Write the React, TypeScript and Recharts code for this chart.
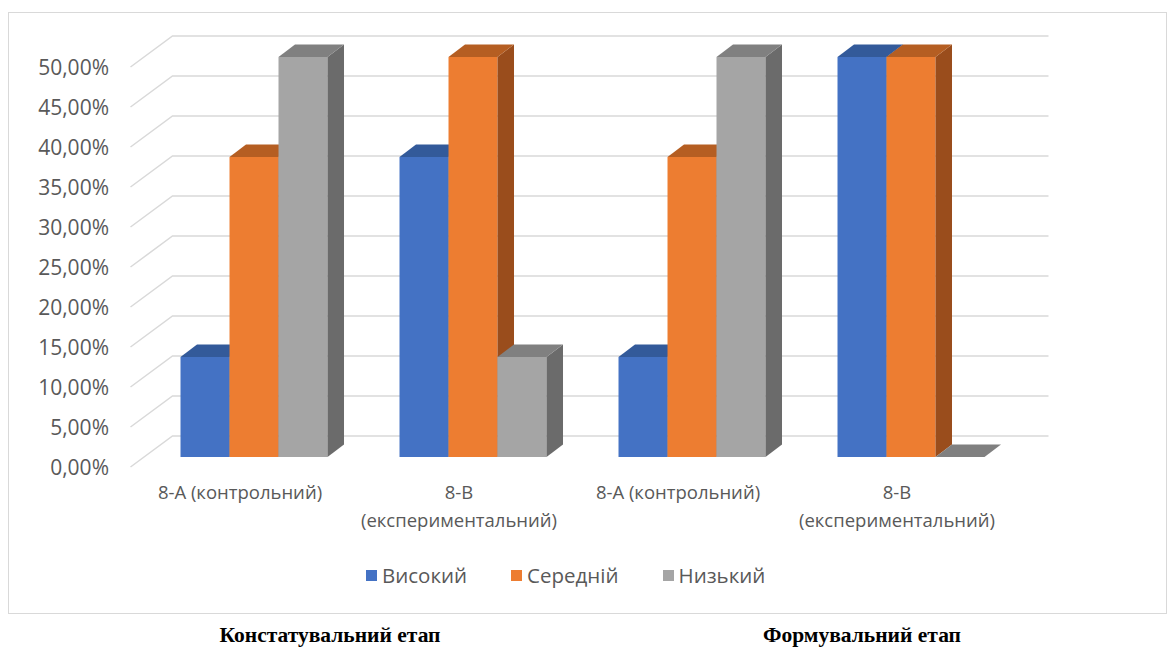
import React from "react";
import { BarChart, Bar, XAxis, YAxis, CartesianGrid, Legend } from "recharts";

// Групи (константувальний і формувальний етапи), рядок розбивається по "\n"
const groups = [
  "8-А (контрольний)",
  "8-В\n(експериментальний)",
  "8-А (контрольний)",
  "8-В\n(експериментальний)",
];
const high = [0.125, 0.375, 0.125, 0.5];
const medium = [0.375, 0.5, 0.375, 0.5];
const low = [0.5, 0.125, 0.5, 0];
const yTicks = [0, 0.05, 0.1, 0.15, 0.2, 0.25, 0.3, 0.35, 0.4, 0.45, 0.5];
const stages = ["Констатувальний етап", "Формувальний етап"];

const series = [
  { key: "high", name: "Високий", color: "#4472C4", top: "#335A9A", side: "#2C4D87" },
  { key: "medium", name: "Середній", color: "#ED7D31", top: "#B55E22", side: "#9A4D1C" },
  { key: "low", name: "Низький", color: "#A5A5A5", top: "#808080", side: "#6B6B6B" },
];

// однакові назви груп повторюються, тому вісь X іде по індексу
const data = groups.map((g, i) => ({ idx: i, group: g, high: high[i], medium: medium[i], low: low[i] }));

const FONT = "'Open Sans', 'Liberation Sans', sans-serif";
const TEXT = "#595959";
const GRID = "#d9d9d9";

// зсув у глибину для 3D-стовпчиків
const DX = 16.5;
const DY = -12.5;
// передня площина осі відносно передньої грані стовпчиків
const AXIS_DX = -13.5;
const AXIS_DY = 10;
// задня стінка з сіткою
const WALL_DX = 28.5;
const WALL_DY = -21;

const pct = (v: number) => (v * 100).toFixed(2).replace(".", ",") + "%";

function Box3D(props: any) {
  const { x, y, width: w, height: h, colors } = props;
  if (x == null || y == null) return null;
  return (
    <g>
      <rect x={x} y={y} width={w} height={h} fill={colors.color} />
      <polygon
        points={`${x + w},${y} ${x + w + DX},${y + DY} ${x + w + DX},${y + h + DY} ${x + w},${y + h}`}
        fill={colors.side}
      />
      <polygon
        points={`${x},${y} ${x + DX},${y + DY} ${x + w + DX},${y + DY} ${x + w},${y}`}
        fill={colors.top}
      />
    </g>
  );
}

function WallLine(props: any) {
  const { x1, y1, x2 } = props;
  const xa = x1 + AXIS_DX;
  const xb = x1 + WALL_DX;
  return (
    <path
      d={`M${xa},${y1 + AXIS_DY} L${xb},${y1 + WALL_DY} L${x2 + WALL_DX},${y1 + WALL_DY}`}
      stroke={GRID}
      strokeWidth={1.5}
      fill="none"
    />
  );
}

function YTick(props: any) {
  const { y, payload } = props;
  return (
    <text x={101} y={y + AXIS_DY} textAnchor="end" dominantBaseline="central" fill={TEXT} fontSize={21}>
      {pct(payload.value)}
    </text>
  );
}

function XTick(props: any) {
  const { x, y, payload } = props;
  const lines = groups[payload.value].split("\n");
  return (
    <text x={x + AXIS_DX} y={y} textAnchor="middle" fill={TEXT} fontSize={18.5}>
      {lines.map((l, i) => (
        <tspan key={i} x={x + AXIS_DX} dy={i === 0 ? 34 : 28}>
          {l}
        </tspan>
      ))}
    </text>
  );
}

function LegendBox() {
  return (
    <div style={{ display: "flex", alignItems: "center", paddingLeft: 358, fontSize: 20.5, color: TEXT }}>
      {series.map((s) => (
        <div key={s.key} style={{ display: "flex", alignItems: "center", marginRight: 44 }}>
          <span style={{ width: 11, height: 11, background: s.color, display: "inline-block", marginRight: 5 }} />
          <span>{s.name}</span>
        </div>
      ))}
    </div>
  );
}

export default function App() {
  return (
    <div style={{ position: "relative", width: 1160, height: 642, fontFamily: FONT }}>
      <div
        style={{
          position: "absolute",
          left: 0,
          top: 4,
          width: 1157,
          height: 600,
          border: `1px solid ${GRID}`,
        }}
      />
      <div style={{ position: "absolute", left: 0, top: 0 }}>
        <BarChart
          width={1160}
          height={610}
          data={data}
          margin={{ top: 49, right: 148, bottom: 101, left: 36 }}
          barCategoryGap="16.67%"
          barGap={0}
        >
          <CartesianGrid vertical={false} horizontal={<WallLine />} />
          <XAxis
            dataKey="idx"
            type="category"
            axisLine={false}
            tickLine={false}
            height={60}
            interval={0}
            tick={<XTick />}
          />
          <YAxis
            type="number"
            domain={[0, 0.5]}
            ticks={yTicks}
            width={100}
            axisLine={false}
            tickLine={false}
            tick={<YTick />}
          />
          <Legend
            layout="horizontal"
            verticalAlign="middle"
            align="center"
            wrapperStyle={{ top: 553, left: 0, width: 1160 }}
            content={<LegendBox />}
          />
          <Bar dataKey="high" name="Високий" fill={series[0].color} isAnimationActive={false}
            shape={(p: any) => <Box3D {...p} colors={series[0]} />} />
          <Bar dataKey="medium" name="Середній" fill={series[1].color} isAnimationActive={false}
            shape={(p: any) => <Box3D {...p} colors={series[1]} />} />
          <Bar dataKey="low" name="Низький" fill={series[2].color} isAnimationActive={false}
            shape={(p: any) => <Box3D {...p} colors={series[2]} />} />
        </BarChart>
      </div>
      {stages.map((t, i) => (
        <div
          key={t}
          style={{
            position: "absolute",
            left: i === 0 ? 322 : 854,
            top: 615,
            transform: "translateX(-50%)",
            fontFamily: "'Liberation Serif', serif",
            fontWeight: "bold",
            fontSize: 21.5,
            whiteSpace: "nowrap",
          }}
        >
          {t}
        </div>
      ))}
    </div>
  );
}
